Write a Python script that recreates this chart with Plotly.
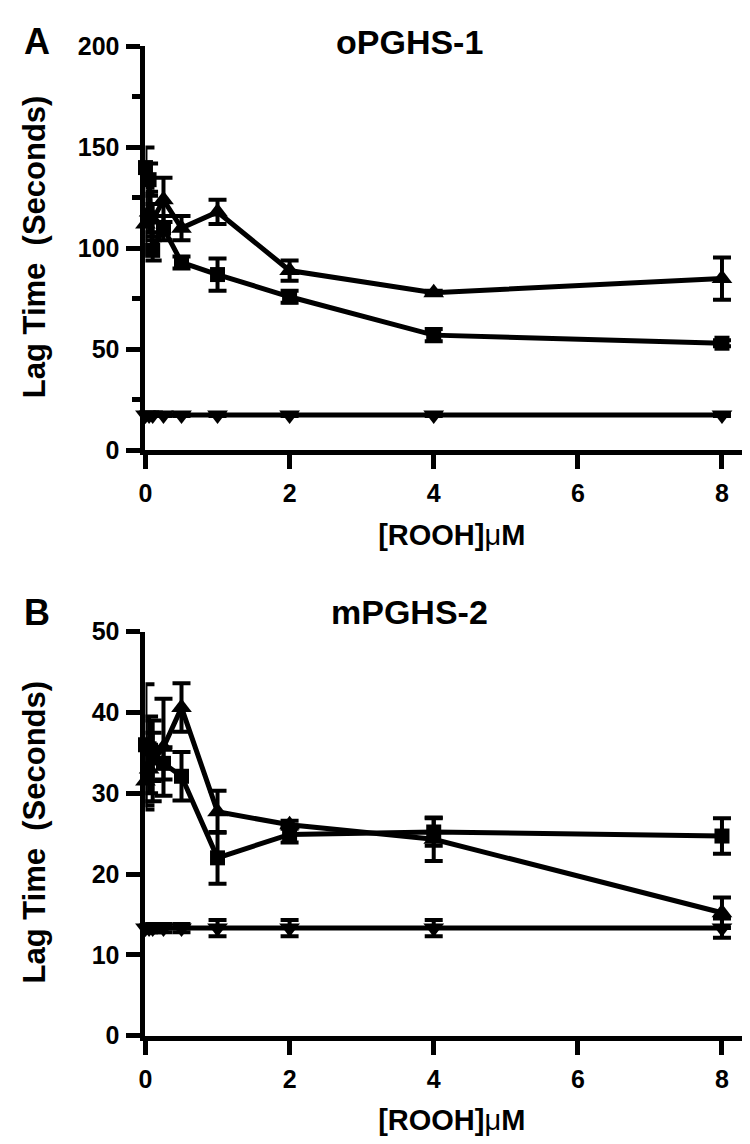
import plotly.graph_objects as go

# ROOH concentrations (uM)
conc = [0, 0.05, 0.1, 0.25, 0.5, 1, 2, 4, 8]

# panel A - oPGHS-1
a_sq = [140, 134, 99, 110, 93, 87, 76, 57, 53]
a_sq_err = [10, 8, 5, 6, 3, 8, 3, 3, 1.5]
a_tri = [112, 118, 114, 124, 110, 118, 89, 78, 85]
a_tri_err = [15, 10, 8, 11, 6, 6, 5, 1, 10.5]
a_inv = [17.5, 17.5, 17.5, 17.5, 17.5, 17.5, 17.5, 17.5, 17.5]
a_inv_err = [0.5, 0.5, 0.5, 0.5, 0.5, 0.5, 0.5, 0.5, 0.5]

# panel B - mPGHS-2
b_sq = [36, 35.5, 34.5, 33.7, 32.1, 22, 24.9, 25.2, 24.7]
b_sq_err = [7.5, 4, 3, 2, 3, 3.2, 1, 1.7, 2.2]
b_tri = [31.5, 33, 34, 35.7, 40.6, 27.7, 26.1, 24.3, 15.2]
b_tri_err = [3.5, 3, 5, 6, 3, 2.6, 0.5, 2.7, 1.9]
b_inv = [13.3, 13.3, 13.3, 13.3, 13.3, 13.3, 13.3, 13.3, 13.3]
b_inv_err = [0.5, 0.5, 0.5, 0.5, 0.5, 1, 1, 1, 1.2]

FONT = "Liberation Sans"

fig = go.Figure()


def add_series(x, y, err, symbol, size, xa, ya):
    fig.add_trace(go.Scatter(
        x=x, y=y, mode="lines+markers", xaxis=xa, yaxis=ya,
        line=dict(color="black", width=5),
        marker=dict(symbol=symbol, size=size, color="black"),
        error_y=dict(type="data", array=err, color="black", thickness=4, width=9),
        cliponaxis=False, showlegend=False,
    ))


add_series(conc, a_sq, a_sq_err, "square", 15, "x", "y")
add_series(conc, a_tri, a_tri_err, "triangle-up", 18, "x", "y")
add_series(conc, a_inv, a_inv_err, "triangle-down", 18, "x", "y")
add_series(conc, b_sq, b_sq_err, "square", 15, "x2", "y2")
add_series(conc, b_tri, b_tri_err, "triangle-up", 18, "x2", "y2")
add_series(conc, b_inv, b_inv_err, "triangle-down", 18, "x2", "y2")

tickfont = dict(family=FONT, size=25, color="black", weight="bold")
xax = dict(range=[0, 8.5], domain=[0.1756, 1.0], showline=True, linewidth=5,
           linecolor="black", ticks="outside", ticklen=14, tickwidth=5,
           tickcolor="black", tickvals=[0, 2, 4, 6, 8], showgrid=False,
           zeroline=False, tickfont=tickfont, ticklabelstandoff=3,
           title=dict(text="[ROOH]<span style='font-weight:normal'>μ</span>M",
                      font=dict(family=FONT, size=29, color="black", weight="bold"),
                      standoff=20))
yax = dict(showline=True, linewidth=5, linecolor="black", ticks="outside",
           ticklen=14, tickwidth=5, tickcolor="black", showgrid=False, zeroline=False,
           tickfont=tickfont, ticklabelstandoff=2)

fig.update_layout(
    width=750, height=1144, margin=dict(l=0, r=0, t=0, b=0),
    plot_bgcolor="white", paper_bgcolor="white",
    xaxis=dict(xax, anchor="y"),
    yaxis=dict(yax, anchor="x", range=[0, 200], domain=[0.6163, 0.9781],
               tickvals=[0, 50, 100, 150, 200],
               minor=dict(dtick=25, ticks="outside", ticklen=8, tickwidth=5,
                          tickcolor="black")),
    xaxis2=dict(xax, anchor="y2"),
    yaxis2=dict(yax, anchor="x2", range=[0, 50], domain=[0.0918, 0.4537],
                tickvals=[0, 10, 20, 30, 40, 50]),
)


def label(text, px, py, size, angle=0):
    # px, py are pixel positions of the text centre
    fig.add_annotation(text=text, x=px / 750, y=1 - py / 1144, xref="paper", yref="paper",
                       xanchor="center", yanchor="middle", showarrow=False, textangle=angle,
                       font=dict(family=FONT, size=size, color="black", weight="bold"))


label("A", 22, 20, 36)
label("B", 22, 605, 36)
label("oPGHS-1", 398, 20, 34)
label("mPGHS-2", 398, 605, 34)
label("Lag Time\u00a0\u00a0(Seconds)", 20, 230, 31, -90)
label("Lag Time\u00a0\u00a0(Seconds)", 20, 830, 31, -90)

fig.write_html("out.html")
